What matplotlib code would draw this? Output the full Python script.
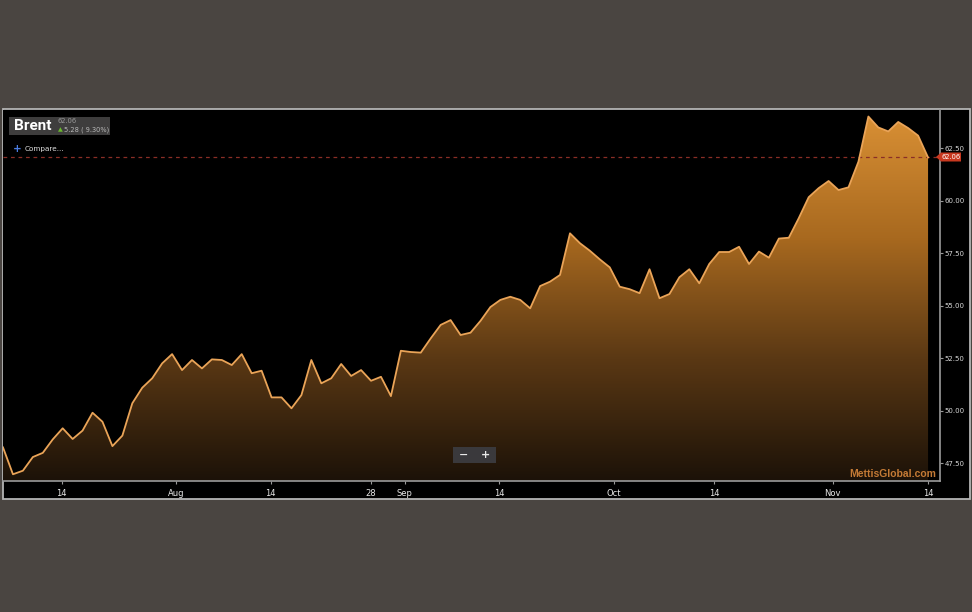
import numpy as np
import matplotlib

matplotlib.use("Agg")
import matplotlib.pyplot as plt
from matplotlib.colors import LinearSegmentedColormap
from matplotlib.patches import Polygon, Rectangle

# Brent daily close, mid-Jul to 14 Nov (trading days, ordinal axis)
prices = [
    48.26, 46.98, 47.15, 47.80, 48.00, 48.64, 49.17, 48.66, 49.06, 49.91,
    49.48, 48.32, 48.82, 50.36, 51.10, 51.55, 52.26, 52.70, 51.94, 52.42,
    52.02, 52.45, 52.42, 52.18, 52.70, 51.79, 51.91, 50.64, 50.64, 50.12,
    50.75, 52.42, 51.31, 51.55, 52.23, 51.66, 51.94, 51.43, 51.62, 50.70,
    52.86, 52.80, 52.77, 53.45, 54.09, 54.32, 53.61, 53.72, 54.28, 54.94,
    55.28, 55.43, 55.28, 54.88, 55.94, 56.15, 56.47, 58.45, 57.98, 57.62,
    57.21, 56.83, 55.91, 55.79, 55.60, 56.74, 55.36, 55.56, 56.36, 56.74,
    56.07, 56.99, 57.56, 57.56, 57.81, 56.99, 57.58, 57.29, 58.20, 58.24,
    59.17, 60.17, 60.60, 60.94, 60.51, 60.64, 61.86, 64.01, 63.49, 63.30,
    63.75, 63.46, 63.10, 62.06,
]
last_price = 62.06
change_text = "5.28 ( 9.30%)"

x_tick_pos = [5.9, 17.4, 26.9, 37.0, 40.4, 49.9, 61.4, 71.5, 83.4, 93.0]
x_tick_labels = ["14", "Aug", "14", "28", "Sep", "14", "Oct", "14", "Nov", "14"]
y_ticks = [47.5, 50.0, 52.5, 55.0, 57.5, 60.0, 62.5]

W, H = 972, 612
BG = "#4a4541"


def fx(px):
    return px / W


def fy(py):
    return 1 - py / H


fig = plt.figure(figsize=(W / 100, H / 100), dpi=100, facecolor=BG)

# outer chart frame (drawn below the axes)
fig.patches.append(Rectangle((fx(2.5), fy(499)), fx(970) - fx(2.5), fy(109) - fy(499),
                             transform=fig.transFigure, facecolor="black",
                             edgecolor="#b4b4b4", linewidth=1.3, zorder=-5))

ax = fig.add_axes([fx(3), fy(481), fx(940) - fx(3), fy(110) - fy(481)])
ax.set_facecolor("black")
ax.set_zorder(1)

x = np.arange(len(prices))
y_lo, y_hi = 46.66, 64.32
ax.set_xlim(0.0, 94.2)
ax.set_ylim(y_lo, y_hi)

# gradient area fill
cmap = LinearSegmentedColormap.from_list("brent", ["#1c1208", "#5a3814", "#a8691f", "#d88f34"])
grad = np.linspace(0, 1, 256).reshape(-1, 1)
im = ax.imshow(grad, cmap=cmap, origin="lower", aspect="auto",
               extent=[0, len(prices) - 1, y_lo, max(prices)], zorder=1)
verts = [(0, y_lo)] + list(zip(x, prices)) + [(len(prices) - 1, y_lo)]
clip = Polygon(verts, closed=True, facecolor="none", edgecolor="none")
ax.add_patch(clip)
im.set_clip_path(clip)
ax.set_xlim(0.0, 94.2)
ax.set_ylim(y_lo, y_hi)

ax.plot(x, prices, color="#eaa458", linewidth=1.3, zorder=3)
ax.axhline(last_price, color="#8a2e26", linewidth=0.9, linestyle=(0, (3, 3)), zorder=2)

# axes styling
for side in ["top", "left"]:
    ax.spines[side].set_visible(False)
ax.spines["bottom"].set_color("#9a9a9a")
ax.spines["right"].set_color("#9a9a9a")
ax.spines["bottom"].set_linewidth(1.2)
ax.spines["right"].set_linewidth(1.2)

ax.yaxis.tick_right()
ax.set_yticks(y_ticks)
ax.set_yticklabels([f"{v:.2f}" for v in y_ticks])
ax.tick_params(axis="y", colors="#9a9a9a", labelcolor="#d8d8d8", labelsize=5,
               length=2, width=0.8, pad=1.5)
ax.set_xticks(x_tick_pos)
ax.set_xticklabels(x_tick_labels)
ax.tick_params(axis="x", colors="#9a9a9a", labelcolor="#e8e8e8", labelsize=6,
               length=2.5, width=0.8, pad=3)

# last price marker on the y axis
lab = Polygon([(fx(936), fy(157)), (fx(941), fy(152.5)), (fx(961), fy(152.5)),
               (fx(961), fy(161.5)), (fx(941), fy(161.5))], closed=True,
              transform=fig.transFigure, facecolor="#c8381f", edgecolor="none", zorder=5)
fig.patches.append(lab)
fig.text(fx(951), fy(157.3), f"{last_price:.2f}", color="white", fontsize=4.8,
         ha="center", va="center", zorder=6)

# title box
fig.patches.append(Rectangle((fx(9), fy(135)), fx(110) - fx(9), fy(117) - fy(135),
                             transform=fig.transFigure, facecolor="#3e3d3d",
                             edgecolor="none", zorder=5))
fig.text(fx(14), fy(126.5), "Brent", color="white", fontsize=11, fontweight="bold",
         family=["Liberation Sans Narrow", "Roboto"], ha="left", va="center", zorder=6)
fig.text(fx(57), fy(121), f"{last_price:.2f}", color="#9a9a9a", fontsize=4.8,
         ha="left", va="center", zorder=6)
fig.text(fx(60), fy(129.5), "\u25b2", color="#6ab82e", fontsize=4.5,
         ha="center", va="center", zorder=6)
fig.text(fx(64), fy(129.5), change_text, color="#b8b8b8", fontsize=4.8,
         ha="left", va="center", zorder=6)

fig.text(fx(17.5), fy(148.5), "+", color="#4a7be0", fontsize=7.5, fontweight="bold",
         ha="center", va="center", zorder=6)
fig.text(fx(25), fy(149), "Compare...", color="#e0e0e0", fontsize=5.2,
         ha="left", va="center", zorder=6)

# zoom buttons
fig.patches.append(Rectangle((fx(453), fy(463)), fx(496) - fx(453), fy(447) - fy(463),
                             transform=fig.transFigure, facecolor="#3a393c",
                             edgecolor="none", zorder=5))
fig.text(fx(463.5), fy(455), "\u2212", color="#e8e8e8", fontsize=8, fontweight="bold",
         ha="center", va="center", zorder=6)
fig.text(fx(485.5), fy(455), "+", color="#e8e8e8", fontsize=8, fontweight="bold",
         ha="center", va="center", zorder=6)

# watermark
fig.text(fx(936), fy(474), "MettisGlobal.com", color="#c47a35", fontsize=7.5,
         fontweight="bold", family=["Liberation Sans", "DejaVu Sans"],
         ha="right", va="center", zorder=6)

fig.savefig("out.png", dpi=100, facecolor=BG)
